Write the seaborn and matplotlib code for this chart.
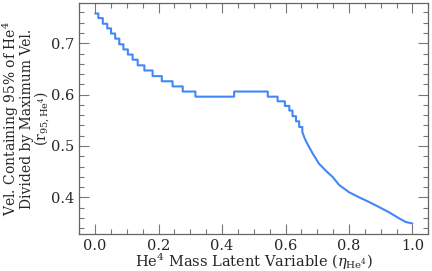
import matplotlib
matplotlib.use('Agg')
import matplotlib.pyplot as plt
import seaborn as sns
from matplotlib.ticker import MultipleLocator

# Latent variable (eta) and the velocity ratio.
# Repeated eta values mark the vertical risers of the stair steps.
eta = [0.000, 0.010, 0.010, 0.024, 0.024, 0.038, 0.038, 0.050, 0.050, 0.063,
       0.063, 0.076, 0.076, 0.089, 0.089, 0.103, 0.103, 0.118, 0.118, 0.134,
       0.134, 0.155, 0.155, 0.181, 0.181, 0.210, 0.210, 0.244, 0.244, 0.276,
       0.276, 0.316, 0.316, 0.438, 0.438, 0.544, 0.544, 0.575, 0.575, 0.598,
       0.598, 0.612, 0.612, 0.622, 0.622, 0.633, 0.633, 0.643, 0.643, 0.653,
       0.653, 0.661, 0.669, 0.677, 0.685, 0.696, 0.706, 0.716, 0.730, 0.748,
       0.769, 0.800, 0.832, 0.863, 0.895, 0.926, 0.958, 0.979, 1.000]
r95 = [0.758, 0.758, 0.749, 0.749, 0.738, 0.738, 0.729, 0.729, 0.719, 0.719,
       0.709, 0.709, 0.698, 0.698, 0.688, 0.688, 0.678, 0.678, 0.668, 0.668,
       0.657, 0.657, 0.647, 0.647, 0.636, 0.636, 0.626, 0.626, 0.616, 0.616,
       0.606, 0.606, 0.596, 0.596, 0.606, 0.606, 0.596, 0.596, 0.587, 0.587,
       0.578, 0.578, 0.569, 0.569, 0.558, 0.558, 0.548, 0.548, 0.537, 0.537,
       0.527, 0.514, 0.504, 0.495, 0.486, 0.475, 0.465, 0.459, 0.450, 0.440,
       0.424, 0.410, 0.400, 0.391, 0.381, 0.371, 0.359, 0.352, 0.349]

sns.set_style('ticks')
plt.rcParams['font.family'] = ['DejaVu Serif']
plt.rcParams['mathtext.fontset'] = 'dejavuserif'
plt.rcParams['font.size'] = 10.5

fig = plt.figure(figsize=(4.32, 2.71), dpi=100)
ax = fig.add_axes([0.1836, 0.1365, 0.8078, 0.8525])

sns.lineplot(x=eta, y=r95, ax=ax, estimator=None, sort=False,
             color='#4287f5', linewidth=1.5)

ax.xaxis.set_major_locator(MultipleLocator(0.2))
ax.xaxis.set_minor_locator(MultipleLocator(0.05))
ax.yaxis.set_major_locator(MultipleLocator(0.1))
ax.yaxis.set_minor_locator(MultipleLocator(0.02))
ax.tick_params(which='both', direction='in', top=True, right=True,
               color='#777777', width=0.8, labelsize=10.5)
ax.tick_params(which='major', length=7)
ax.tick_params(which='minor', length=3.5)
for s in ax.spines.values():
    s.set_color('#666666')
    s.set_linewidth(0.9)

ax.set_xlabel(r'He$^4$ Mass Latent Variable ($\eta_{\mathrm{He}^4}$)', fontsize=10.5)
ax.set_ylabel('Vel. Containing 95% of He$^4$\nDivided by Maximum Vel.\n'
              r'($\mathrm{r}_{95,\mathrm{He}^4}$)', fontsize=10,
              linespacing=0.93)
ax.xaxis.set_label_coords(0.5, -0.078)
ax.yaxis.set_label_coords(-0.077, 0.5)

fig.savefig('out.png', dpi=100)
plt.close(fig)
